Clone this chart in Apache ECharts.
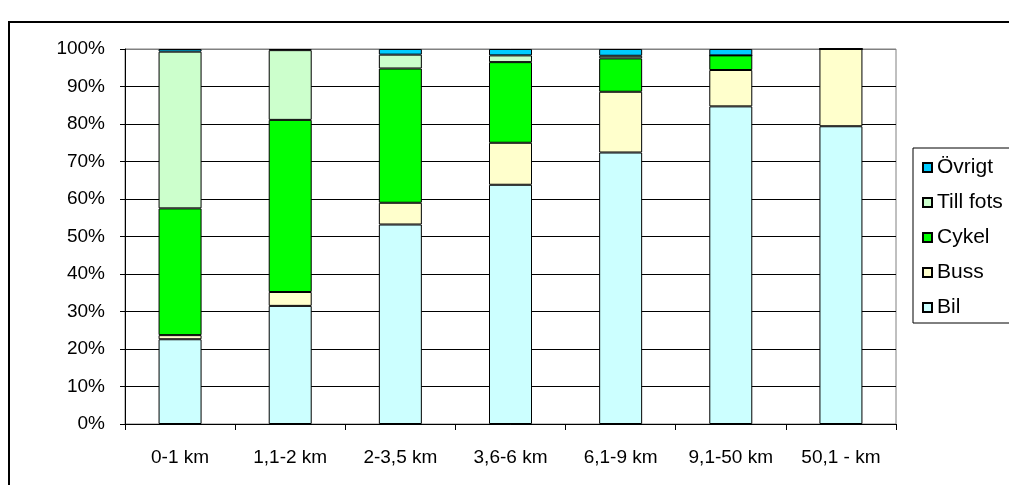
<!DOCTYPE html>
<html>
<head>
<meta charset="utf-8">
<script src="https://cdn.jsdelivr.net/npm/echarts@6/dist/echarts.min.js"></script>
<style>
  html, body { margin: 0; padding: 0; background: #fff; }
  #chart { width: 1009px; height: 485px; }
</style>
</head>
<body>
<div id="chart"></div>
<script>
// Travel mode share by trip distance (percent of trips)
const categories = ['0-1 km', '1,1-2 km', '2-3,5 km', '3,6-6 km', '6,1-9 km', '9,1-50 km', '50,1 - km'];
const bil      = [22.6, 31.5, 53.2, 63.8, 72.4, 84.7, 79.4];
const buss     = [1.1, 3.7, 5.8, 11.2, 16.2, 9.7, 20.6];
const cykel    = [33.8, 45.9, 35.8, 21.5, 8.9, 3.9, 0];
const tillFots = [41.8, 18.6, 3.7, 1.8, 0.7, 0, 0];
const ovrigt   = [0.7, 0.3, 1.5, 1.7, 1.8, 1.7, 0];

const FONT = "'Liberation Sans', Arial, sans-serif";
const FS = 19;

const seriesDefs = [
  { name: 'Bil', data: bil, color: '#CCFFFF' },
  { name: 'Buss', data: buss, color: '#FFFFCC' },
  { name: 'Cykel', data: cykel, color: '#00FF00' },
  { name: 'Till fots', data: tillFots, color: '#CCFFCC' },
  { name: 'Övrigt', data: ovrigt, color: '#00CCFF' }
];

// top gridline doubles as the grey plot-area border
const gridColors = ['#000','#000','#000','#000','#000','#000','#000','#000','#000','#000','#808080'];

const chart = echarts.init(document.getElementById('chart'), null, { renderer: 'canvas' });
chart.setOption({
  animation: false,
  backgroundColor: '#fff',
  textStyle: { fontFamily: FONT },
  grid: {
    left: 125, right: 113, top: 49, bottom: 61,
    show: true, borderColor: '#808080', borderWidth: 1, backgroundColor: 'transparent'
  },
  legend: {
    orient: 'vertical',
    left: 913, top: 148,
    data: ['Övrigt', 'Till fots', 'Cykel', 'Buss', 'Bil'],
    icon: 'rect',
    itemWidth: 9, itemHeight: 9,
    itemGap: 12,
    padding: [8, 20, 4, 9],
    borderColor: '#000', borderWidth: 1,
    backgroundColor: '#fff',
    textStyle: { fontFamily: FONT, fontSize: 21, color: '#000', lineHeight: 23 }
  },
  xAxis: {
    type: 'category',
    data: categories,
    boundaryGap: true,
    axisLine: { show: true, lineStyle: { color: '#000', width: 1 } },
    axisTick: { show: true, alignWithLabel: false, length: 6, lineStyle: { color: '#000' } },
    axisLabel: { fontFamily: FONT, fontSize: FS, color: '#000', margin: 24 },
    splitLine: { show: false }
  },
  yAxis: {
    type: 'value',
    min: 0, max: 100, interval: 10,
    axisLine: { show: true, lineStyle: { color: '#000', width: 1 } },
    axisTick: { show: true, length: 5, lineStyle: { color: '#000' } },
    axisLabel: { fontFamily: FONT, fontSize: FS, color: '#000', margin: 20, formatter: '{value}%' },
    splitLine: { show: true, lineStyle: { color: gridColors, width: 1 } }
  },
  series: seriesDefs.map(s => ({
    name: s.name,
    type: 'bar',
    stack: 'share',
    barWidth: 43,
    data: s.data,
    itemStyle: { color: s.color, borderColor: '#000', borderWidth: 1 },
    emphasis: { disabled: true }
  })),
  graphic: [{
    type: 'rect',
    silent: true,
    shape: { x: 9, y: 22, width: 1100, height: 600 },
    style: { fill: 'none', stroke: '#000', lineWidth: 2 }
  }]
});
</script>
</body>
</html>
